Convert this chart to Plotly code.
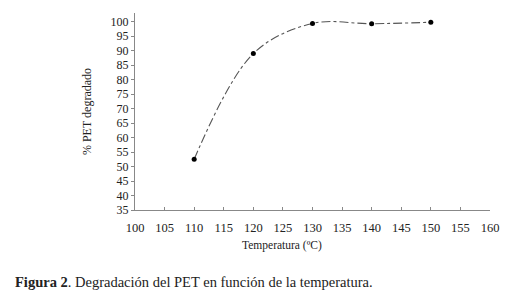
import plotly.graph_objects as go

temperatura = [110, 120, 130, 140, 150]
pet_degradado = [52.5, 89.0, 99.4, 99.3, 99.8]
x_ticks = list(range(100, 161, 5))
y_ticks = list(range(35, 101, 5))

fig = go.Figure()
fig.add_trace(go.Scatter(
    x=temperatura, y=pet_degradado, mode="lines+markers",
    line=dict(shape="spline", smoothing=1.0, color="#555555", width=1.1, dash="dashdot"),
    marker=dict(color="black", size=5),
    showlegend=False,
))

font = dict(family="Liberation Serif, Times New Roman, serif", color="#222222")
fig.update_layout(
    width=511, height=292,
    margin=dict(l=135, r=16, t=13, b=82),
    paper_bgcolor="white", plot_bgcolor="white",
    font=dict(size=12, **font),
    xaxis=dict(range=[100, 160], tickvals=x_ticks, showgrid=False, zeroline=False,
               showline=True, linecolor="#888888", linewidth=1,
               ticks="inside", ticklen=3, tickcolor="#888888",
               ticklabelstandoff=6, tickfont=dict(size=12.5)),
    yaxis=dict(range=[35, 103], tickvals=y_ticks, showgrid=False, zeroline=False,
               showline=True, linecolor="#888888", linewidth=1,
               ticks="outside", ticklen=3, tickcolor="#888888",
               title=dict(text="% PET degradado", font=dict(size=12), standoff=16),
               tickfont=dict(size=12)),
    annotations=[
        dict(text="Temperatura (ºC)", xref="paper", yref="paper", x=0.414, y=-0.178,
             xanchor="center", yanchor="middle", showarrow=False, font=dict(size=11.5, **font)),
        dict(text="<b>Figura 2</b>. Degradación del PET en función de la temperatura.",
             xref="paper", yref="paper", x=-0.344, y=-0.365, xanchor="left", yanchor="middle",
             showarrow=False, font=dict(size=14.5, **font)),
    ],
)
fig.write_html("out.html", config={"displayModeBar": False},
               post_script="document.body.style.margin='0';document.body.style.overflow='hidden';")
